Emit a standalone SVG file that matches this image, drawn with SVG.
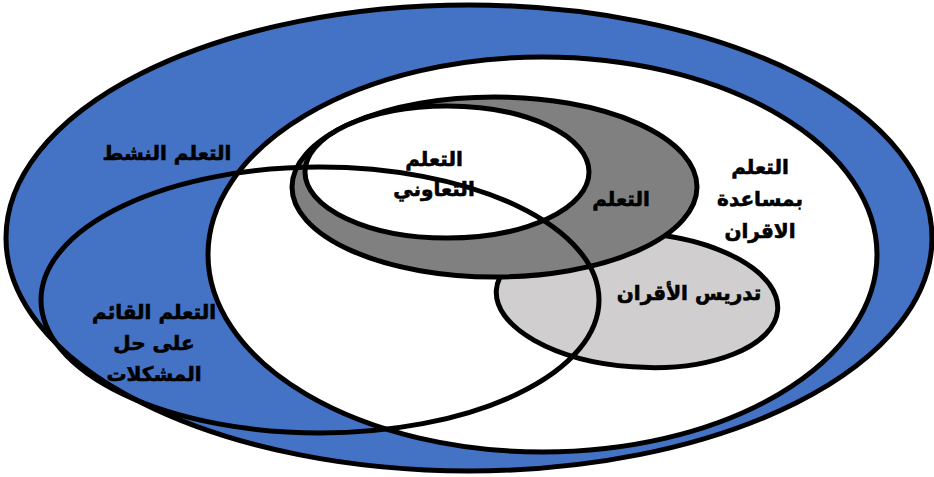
<svg xmlns="http://www.w3.org/2000/svg" width="934" height="477" viewBox="0 0 934 477">
<style>
.sh{stroke:#000;stroke-width:5}
.t{font-family:"DejaVu Sans","Noto Sans",sans-serif;font-weight:bold;font-size:20px;fill:#000;stroke:#000;stroke-width:0.6;text-anchor:middle}
</style>
<rect width="934" height="477" fill="#fff"/>
<g id="active">
<ellipse class="sh" cx="469" cy="238" rx="463" ry="233" fill="#4472C4"/>
</g>
<g id="peer-assisted">
<ellipse class="sh" cx="542.5" cy="254.5" rx="334.5" ry="197.5" fill="#fff"/>
</g>
<g id="peer-teaching">
<ellipse class="sh" cx="637" cy="300" rx="141" ry="67" fill="#D0CECE" transform="rotate(4 637 300)"/>
</g>
<g id="learning">
<ellipse class="sh" cx="494.5" cy="187" rx="202.5" ry="90" fill="#808080"/>
</g>
<g id="cooperative">
<ellipse class="sh" cx="447" cy="172" rx="142" ry="66" fill="#fff"/>
</g>
<g id="problem-based">
<ellipse class="sh" cx="320" cy="300" rx="279" ry="133" fill="none"/>
</g>
<g id="labels">
<text class="t" x="167" y="160">التعلم النشط</text>
<text class="t" x="434" y="166">التعلم</text>
<text class="t" x="434" y="196">التعاوني</text>
<text class="t" x="621" y="206">التعلم</text>
<text class="t" x="760" y="174">التعلم</text>
<text class="t" x="760" y="206">بمساعدة</text>
<text class="t" x="760" y="238">الاقران</text>
<text class="t" x="689" y="300">تدريس الأقران</text>
<text class="t" x="154" y="319">التعلم القائم</text>
<text class="t" x="154" y="350">على حل</text>
<text class="t" x="154" y="381">المشكلات</text>
</g>
</svg>
